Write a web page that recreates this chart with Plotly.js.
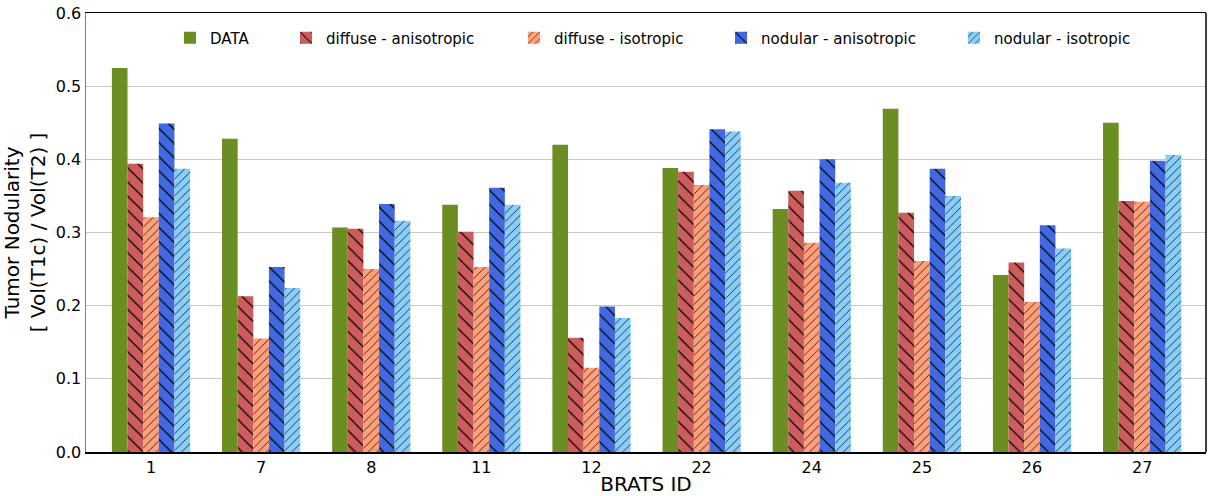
<!DOCTYPE html>
<html>
<head>
<meta charset="utf-8">
<script src="https://cdn.plot.ly/plotly-3.0.1.min.js"></script>
<style>html,body{margin:0;padding:0;background:#fff;}#chart{width:1209px;height:496px;}</style>
</head>
<body>
<div id="chart"></div>
<script>
var categories = ["1", "7", "8", "11", "12", "22", "24", "25", "26", "27"];
var seriesNames = ["DATA", "diffuse - anisotropic", "diffuse - isotropic", "nodular - anisotropic", "nodular - isotropic"];
var dataValues = [0.525, 0.428, 0.307, 0.338, 0.420, 0.388, 0.332, 0.469, 0.242, 0.450];
var diffuseAniso = [0.394, 0.213, 0.305, 0.301, 0.156, 0.383, 0.357, 0.327, 0.259, 0.343];
var diffuseIso = [0.321, 0.155, 0.250, 0.253, 0.115, 0.365, 0.286, 0.261, 0.205, 0.342];
var nodularAniso = [0.449, 0.253, 0.339, 0.361, 0.199, 0.441, 0.400, 0.387, 0.310, 0.398];
var nodularIso = [0.387, 0.224, 0.316, 0.338, 0.183, 0.438, 0.368, 0.350, 0.278, 0.406];
var yTicks = [0.0, 0.1, 0.2, 0.3, 0.4, 0.5, 0.6];

var colors = ["#6B8E23", "#CD5C5C", "#FFA07A", "#4169E1", "#87CEFA"];
var patterns = [null, {shape: "\\", size: 10}, {shape: "/", size: 6}, {shape: "\\", size: 10}, {shape: "/", size: 6}];
var legendX = [0.075, 0.1786, 0.3821, 0.5670, 0.7750];
var legendIds = ["legend", "legend2", "legend3", "legend4", "legend5"];
var allValues = [dataValues, diffuseAniso, diffuseIso, nodularAniso, nodularIso];

var font = "DejaVu Sans, sans-serif";

var traces = allValues.map(function (vals, i) {
  var marker = {color: colors[i], line: {width: 0}};
  if (patterns[i]) {
    marker.pattern = {shape: patterns[i].shape, size: patterns[i].size, solidity: 0.12,
                      fgcolor: "#000000", bgcolor: colors[i], fgopacity: 1, fillmode: "replace"};
  }
  return {
    type: "bar",
    name: seriesNames[i],
    x: categories,
    y: vals,
    marker: marker,
    legend: legendIds[i],
    hoverinfo: "none"
  };
});

var layout = {
  width: 1209,
  height: 496,
  margin: {l: 86, r: 3, t: 13, b: 44},
  paper_bgcolor: "#ffffff",
  plot_bgcolor: "#ffffff",
  barmode: "group",
  bargap: 0.29,
  bargroupgap: 0,
  font: {family: font, color: "#000000"},
  showlegend: true,
  xaxis: {
    type: "category",
    range: [-0.59, 9.58],
    showline: true, linecolor: "#000000", linewidth: 1.5, mirror: true,
    ticks: "", showgrid: false,
    tickfont: {family: font, size: 16, color: "#000000"},
    title: {text: "BRATS ID", font: {family: font, size: 20, color: "#000000"}, standoff: 4}
  },
  yaxis: {
    range: [0, 0.6],
    tickvals: yTicks,
    tickformat: ".1f",
    showline: true, linecolor: "#808080", linewidth: 1.5,
    ticks: "",
    showgrid: true, gridcolor: "#c8c8c8", gridwidth: 1.2,
    zeroline: false,
    tickfont: {family: font, size: 16, color: "#000000"},
    title: {text: "Tumor Nodularity<br>[ Vol(T1c) / Vol(T2) ]", font: {family: font, size: 20, color: "#000000"}, standoff: 8}
  },
  shapes: [
    {type: "line", xref: "paper", yref: "paper", x0: 1, x1: 1, y0: 0, y1: 1, line: {color: "#000000", width: 1.5}}
  ]
};

legendIds.forEach(function (id, i) {
  layout[id] = {
    orientation: "h",
    x: legendX[i], xanchor: "left",
    y: 0.943, yanchor: "middle",
    font: {family: font, size: 15, color: "#000000"},
    bgcolor: "rgba(255,255,255,0)",
    borderwidth: 0
  };
});

Plotly.newPlot("chart", traces, layout, {displayModeBar: false, staticPlot: true});
</script>
</body>
</html>
